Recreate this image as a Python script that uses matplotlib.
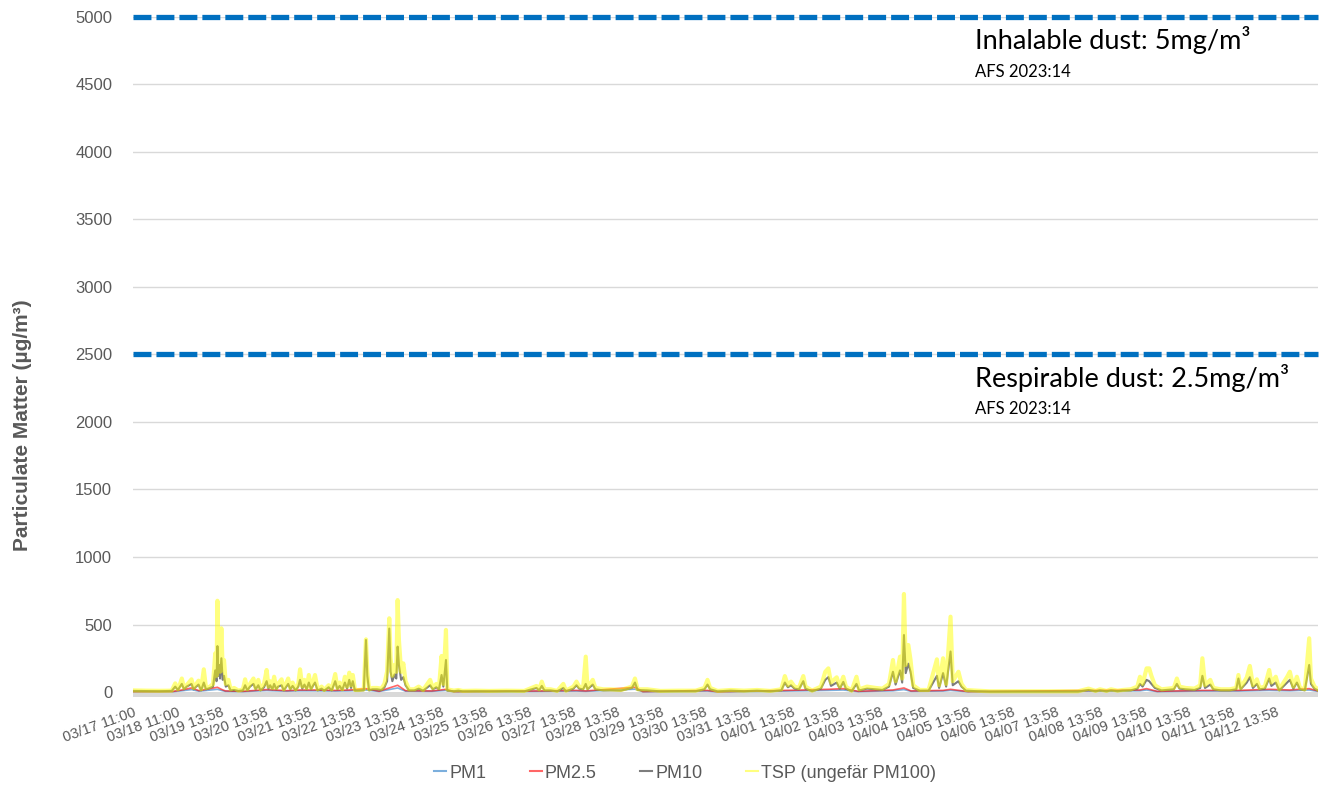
import matplotlib
matplotlib.use("Agg")
import matplotlib.pyplot as plt

# x position = days since first sample (03/17 11:00)
tick_labels = [
    "03/17 11:00", "03/18 11:00", "03/19 13:58", "03/20 13:58", "03/21 13:58",
    "03/22 13:58", "03/23 13:58", "03/24 13:58", "03/25 13:58", "03/26 13:58",
    "03/27 13:58", "03/28 13:58", "03/29 13:58", "03/30 13:58", "03/31 13:58",
    "04/01 13:58", "04/02 13:58", "04/03 13:58", "04/04 13:58", "04/05 13:58",
    "04/06 13:58", "04/07 13:58", "04/08 13:58", "04/09 13:58", "04/10 13:58",
    "04/11 13:58", "04/12 13:58",
]

t = [
    0.00, 0.30, 0.60, 0.88, 0.96, 1.02, 1.06, 1.11, 1.16, 1.22, 1.33, 1.38, 1.42, 1.49, 1.55,
    1.61, 1.66, 1.75, 1.82, 1.87, 1.90, 1.92, 1.94, 1.96, 1.98, 2.01, 2.04, 2.07, 2.11, 2.17,
    2.22, 2.30, 2.40, 2.50, 2.55, 2.60, 2.66, 2.74, 2.79, 2.85, 2.90, 2.98, 3.04, 3.08, 3.12,
    3.17, 3.21, 3.26, 3.30, 3.38, 3.43, 3.53, 3.58, 3.63, 3.70, 3.76, 3.80, 3.85, 3.90, 3.95,
    4.00, 4.05, 4.10, 4.14, 4.20, 4.29, 4.35, 4.45, 4.52, 4.60, 4.65, 4.70, 4.76, 4.82, 4.87,
    4.92, 4.96, 5.00, 5.05, 5.15, 5.25, 5.30, 5.33, 5.37, 5.45, 5.55, 5.65, 5.72, 5.78, 5.83,
    5.86, 5.90, 5.95, 5.99, 6.02, 6.05, 6.10, 6.15, 6.20, 6.28, 6.40, 6.50, 6.60, 6.76, 6.82,
    6.90, 6.96, 7.02, 7.06, 7.12, 7.15, 7.30, 7.40, 7.50, 7.80, 8.10, 8.50, 8.90, 9.18, 9.24,
    9.30, 9.36, 9.50, 9.65, 9.79, 9.85, 10.02, 10.09, 10.15, 10.24, 10.30, 10.34, 10.46, 10.52, 10.70,
    10.85, 11.10, 11.35, 11.42, 11.48, 11.70, 12.00, 12.40, 12.80, 13.00, 13.07, 13.13, 13.30, 13.60, 13.90,
    14.20, 14.50, 14.75, 14.83, 14.90, 14.97, 15.05, 15.15, 15.25, 15.30, 15.45, 15.65, 15.75, 15.82, 15.88,
    16.01, 16.08, 16.16, 16.22, 16.35, 16.46, 16.52, 16.70, 16.90, 17.05, 17.20, 17.29, 17.35, 17.45, 17.50,
    17.54, 17.58, 17.64, 17.69, 17.75, 17.90, 18.10, 18.29, 18.34, 18.43, 18.50, 18.60, 18.65, 18.78, 18.85,
    18.95, 19.20, 19.50, 20.00, 20.50, 21.00, 21.50, 21.74, 21.90, 22.00, 22.15, 22.25, 22.40, 22.52, 22.70,
    22.85, 22.91, 22.97, 23.06, 23.12, 23.17, 23.25, 23.40, 23.68, 23.75, 23.81, 23.95, 24.15, 24.28, 24.33,
    24.39, 24.51, 24.58, 24.75, 24.95, 25.10, 25.15, 25.20, 25.34, 25.41, 25.48, 25.57, 25.63, 25.75, 25.85,
    25.90, 26.00, 26.08, 26.26, 26.32, 26.40, 26.48, 26.55, 26.66, 26.76, 26.80, 26.88, 26.96,
]

tsp = [
    12, 10, 9, 10, 64, 20, 50, 100, 30, 50, 94, 30, 50, 84, 20,
    168, 30, 40, 60, 286, 120, 676, 180, 336, 150, 472, 160, 237, 60, 90,
    20, 30, 10, 20, 94, 20, 60, 100, 30, 90, 20, 60, 163, 40, 80,
    30, 113, 30, 60, 94, 20, 100, 30, 70, 20, 60, 168, 40, 90, 30,
    126, 30, 80, 126, 20, 40, 15, 50, 20, 133, 30, 70, 20, 113, 40,
    143, 50, 126, 15, 15, 20, 390, 150, 20, 30, 30, 25, 60, 150, 546,
    250, 120, 200, 150, 681, 385, 150, 212, 80, 20, 20, 40, 15, 90, 30,
    60, 30, 267, 60, 460, 20, 10, 15, 8, 10, 8, 10, 8, 45, 20,
    77, 20, 20, 8, 60, 10, 40, 77, 40, 30, 262, 30, 90, 30, 20,
    20, 15, 40, 100, 20, 20, 8, 10, 10, 30, 90, 30, 8, 15, 10,
    15, 8, 20, 118, 50, 77, 40, 30, 118, 40, 10, 40, 150, 175, 70,
    109, 40, 113, 40, 10, 113, 20, 40, 30, 25, 60, 237, 80, 262, 100,
    726, 200, 348, 237, 50, 15, 15, 242, 50, 250, 60, 558, 80, 150, 60,
    15, 10, 5, 5, 5, 5, 5, 25, 8, 20, 8, 20, 10, 15, 20,
    40, 113, 60, 175, 175, 120, 50, 20, 30, 100, 40, 30, 25, 50, 250,
    50, 90, 30, 20, 20, 30, 126, 30, 108, 193, 50, 94, 30, 40, 163,
    70, 113, 20, 113, 150, 40, 113, 30, 20, 398, 100, 40, 20,
]

pm10 = [
    8, 7, 6, 8, 40, 15, 35, 60, 20, 40, 60, 20, 35, 55, 12,
    70, 20, 30, 40, 160, 80, 340, 120, 200, 100, 250, 90, 120, 40, 50,
    12, 15, 8, 12, 50, 12, 40, 60, 20, 50, 12, 35, 80, 25, 50,
    20, 60, 20, 40, 50, 12, 60, 20, 45, 12, 40, 90, 25, 55, 20,
    70, 20, 50, 70, 12, 25, 10, 35, 12, 80, 20, 45, 15, 70, 25,
    90, 30, 80, 10, 10, 12, 385, 120, 12, 20, 20, 15, 35, 80, 470,
    150, 80, 130, 100, 336, 200, 90, 110, 50, 12, 12, 25, 10, 50, 20,
    35, 20, 126, 40, 237, 10, 6, 10, 5, 6, 5, 6, 5, 30, 12,
    45, 12, 12, 5, 30, 6, 25, 50, 25, 20, 60, 20, 55, 20, 12,
    12, 10, 30, 70, 15, 12, 5, 6, 6, 20, 55, 20, 5, 10, 6,
    10, 5, 12, 70, 35, 50, 25, 20, 80, 25, 6, 25, 90, 110, 45,
    70, 25, 75, 25, 6, 60, 12, 25, 20, 15, 40, 150, 55, 160, 70,
    422, 140, 210, 150, 30, 10, 10, 120, 30, 140, 40, 300, 50, 80, 40,
    10, 6, 3, 3, 3, 3, 3, 15, 5, 12, 5, 12, 6, 10, 12,
    25, 60, 40, 90, 80, 60, 30, 12, 20, 60, 25, 20, 15, 30, 120,
    30, 55, 20, 12, 12, 20, 100, 20, 70, 110, 30, 60, 20, 25, 100,
    45, 70, 12, 70, 90, 25, 70, 20, 12, 200, 60, 25, 12,
]

pm25_t = [
    0.0, 0.9, 1.11, 1.33, 1.5, 1.92, 2.01, 2.1, 2.5, 3.04, 3.5, 3.8, 4.14, 4.6, 4.92,
    5.3, 5.6, 5.83, 6.02, 6.2, 6.8, 7.12, 7.3, 9.3, 10.09, 10.3, 11.42, 11.6, 13.07, 13.3,
    14.83, 15.25, 15.82, 16.16, 16.5, 17.29, 17.54, 17.7, 18.43, 18.6, 19.0, 22.91, 23.06, 23.3, 24.33,
    25.15, 25.41, 25.85, 26.32, 26.76, 26.96,
]
pm25 = [
    3, 4, 15, 30, 10, 35, 20, 8, 5, 18, 10, 15, 15, 12, 15,
    25, 6, 30, 50, 10, 8, 20, 3, 8, 12, 8, 35, 3, 12, 2,
    12, 15, 20, 25, 5, 15, 30, 8, 12, 20, 3, 15, 25, 5, 12,
    12, 15, 20, 15, 25, 8,
]
pm1 = [
    2, 2, 9, 18, 6, 20, 12, 5, 3, 11, 6, 9, 9, 7, 9,
    15, 4, 18, 30, 6, 5, 12, 2, 5, 7, 5, 21, 2, 7, 1,
    7, 9, 12, 15, 3, 9, 18, 5, 7, 12, 2, 9, 15, 3, 7,
    7, 9, 12, 9, 15, 5,
]

limits = [5000, 2500]
limit_names = ["Inhalable dust: 5mg/m³", "Respirable dust: 2.5mg/m³"]

fig = plt.figure(figsize=(13.25, 7.89), dpi=100)
ax = fig.add_axes([0.1004, 0.1166, 0.8943, 0.8619])

grey = "#595959"

for y in range(500, 5001, 500):
    ax.axhline(y, color="#D9D9D9", lw=1, zorder=0)
ax.axhspan(-37, 0, color="#D9D9D9", lw=0, zorder=0)

ax.plot(pm25_t, pm1, color="#5B9BD5", lw=1.2, alpha=0.8, label="PM1", zorder=2)
ax.plot(pm25_t, pm25, color="#FF0000", lw=1.2, alpha=0.6, label="PM2.5", zorder=2)
ax.plot(t, pm10, color="#666666", lw=1.5, alpha=0.85, label="PM10", zorder=3)
ax.plot(t, tsp, color="#FFFF00", lw=3.0, alpha=0.5, label="TSP (ungefär PM100)", zorder=4)

for lim, name in zip(limits, limit_names):
    ax.axhline(lim, color="#0070C0", lw=3.8, dashes=(3.4, 0.95), clip_on=False, zorder=5)
    ax.text(0.7105, lim - 70, name, transform=ax.get_yaxis_transform(),
            fontsize=19.5, family="Lato", color="black", va="top", ha="left")
    ax.text(0.7105, lim - 345, "AFS 2023:14", transform=ax.get_yaxis_transform(),
            fontsize=12, family="Lato", color="black", va="top", ha="left")

ax.set_xlim(0, 26.96)
ax.set_ylim(-37, 5000)
ax.set_yticks(range(0, 5001, 500))
ax.set_xticks(range(len(tick_labels)))
ax.set_xticklabels(tick_labels, rotation=20, ha="right", rotation_mode="anchor")

ax.tick_params(axis="y", length=0, pad=15, labelsize=12, labelcolor=grey)
ax.tick_params(axis="x", length=0, pad=6, labelsize=10.5, labelcolor=grey)
for lab in ax.get_xticklabels() + ax.get_yticklabels():
    lab.set_family("Liberation Sans")

for s in ax.spines.values():
    s.set_visible(False)

ax.set_ylabel("Particulate Matter (µg/m³)", fontsize=15, fontweight="bold",
              color=grey, family="Liberation Sans")
ax.yaxis.set_label_coords(-0.0937, 0.4)
ax.yaxis.label.set_va("center")

leg = fig.legend(loc="center", bbox_to_anchor=(0.517, 0.02), ncol=4, frameon=False,
                 handlelength=0.67, handletextpad=0.17, columnspacing=2.4,
                 prop={"family": "Liberation Sans", "size": 13})
for txt in leg.get_texts():
    txt.set_color(grey)
for h in leg.get_lines():
    h.set_linewidth(1.5)

fig.savefig("out.png", dpi=100)
plt.close(fig)
